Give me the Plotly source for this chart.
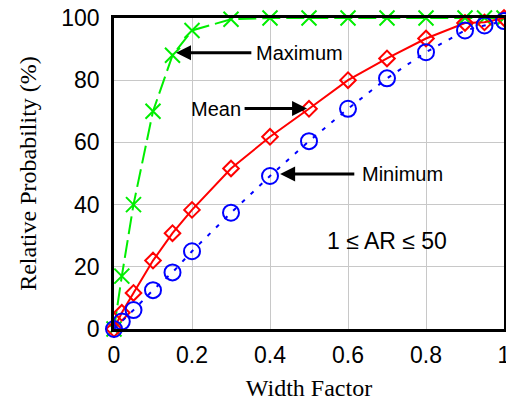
import plotly.graph_objects as go

width_factor = [0, 0.02, 0.05, 0.1, 0.15, 0.2, 0.3, 0.4, 0.5, 0.6, 0.7, 0.8, 0.9, 0.95, 1.0]
maximum = [0, 17, 40, 70, 88, 96, 99.6, 100, 100, 100, 100, 100, 100, 100, 100]
mean = [0, 5.2, 11.6, 22, 30.8, 38.3, 51.6, 61.8, 70.8, 80, 87, 93.4, 98.4, 98.6, 100]
minimum = [0, 2.4, 6.1, 12.5, 18.2, 25, 37.4, 49.2, 60.4, 70.8, 80.6, 89, 96, 97.6, 99]

x_ticks = [0, 0.2, 0.4, 0.6, 0.8, 1.0]
x_tick_labels = ["0", "0.2", "0.4", "0.6", "0.8", "1"]
y_ticks = [0, 20, 40, 60, 80, 100]

GREEN = "#00ee00"
RED = "#ff0000"
BLUE = "#0000ff"

fig = go.Figure()
fig.add_trace(go.Scatter(
    x=width_factor, y=maximum, mode="lines+markers", name="Maximum",
    line=dict(color=GREEN, width=2, dash="18px,6px"),
    marker=dict(symbol="x-thin-open", size=15, line=dict(color=GREEN, width=2), color=GREEN),
    cliponaxis=False,
))
fig.add_trace(go.Scatter(
    x=width_factor, y=mean, mode="lines+markers", name="Mean",
    line=dict(color=RED, width=2),
    marker=dict(symbol="diamond-open", size=12, line=dict(color=RED, width=2), color=RED),
    cliponaxis=False,
))
fig.add_trace(go.Scatter(
    x=width_factor, y=minimum, mode="lines+markers", name="Minimum",
    line=dict(color=BLUE, width=2, dash="4px,8px"),
    marker=dict(symbol="circle-open", size=16, line=dict(color=BLUE, width=2), color=BLUE),
    cliponaxis=False,
))

label_font = dict(family="Liberation Sans, Arial", size=20, color="black")
arrows = [
    # (tip_x, tip_y, tail_x, tail_y)
    (0.159, 88.8, 0.356, 88.8),
    (0.495, 70.9, 0.331, 70.9),
    (0.426, 49.8, 0.62, 49.8),
]
for tx, ty, ax, ay in arrows:
    fig.add_annotation(x=tx, y=ty, ax=ax, ay=ay, xref="x", yref="y", axref="x", ayref="y",
                       text="", showarrow=True, arrowhead=2, arrowsize=1, arrowwidth=3,
                       arrowcolor="black")
fig.add_annotation(x=0.36, y=88.8, text="Maximum", showarrow=False, xanchor="left",
                   font=label_font)
fig.add_annotation(x=0.33, y=70.9, text="Mean", showarrow=False, xanchor="right",
                   font=label_font)
fig.add_annotation(x=0.63, y=49.8, text="Minimum", showarrow=False, xanchor="left",
                   font=label_font)
fig.add_annotation(x=0.70, y=28.4, text="1 ≤ AR ≤ 50", showarrow=False,
                   font=dict(family="Liberation Sans, Arial", size=23, color="black"))

axis_common = dict(
    showline=True, linecolor="black", linewidth=2.5, mirror=True,
    showgrid=True, gridcolor="#c8c8c8", gridwidth=1,
    zeroline=False, ticks="", automargin=False, ticklabeloverflow="allow",
    tickfont=dict(family="Liberation Sans, Arial", size=23, color="black"),
)
title_font = dict(family="Liberation Serif, Times New Roman", size=24, color="black")
fig.update_xaxes(range=[0, 1], tickvals=x_ticks, ticktext=x_tick_labels,
                 title=dict(text="Width Factor", font=title_font, standoff=12),
                 ticklabelstandoff=4, **axis_common)
fig.update_yaxes(range=[0, 100], tickvals=y_ticks,
                 title=dict(text="Relative Probability (%)", font=title_font, standoff=18),
                 ticklabelstandoff=7, **axis_common)

# page body has an 8px default margin, so the figure is 8px smaller and offset
fig.update_layout(
    width=506, height=394,
    margin=dict(l=106, r=10, t=10, b=73),
    paper_bgcolor="white", plot_bgcolor="white",
    showlegend=False,
)
fig.write_html("out.html")
